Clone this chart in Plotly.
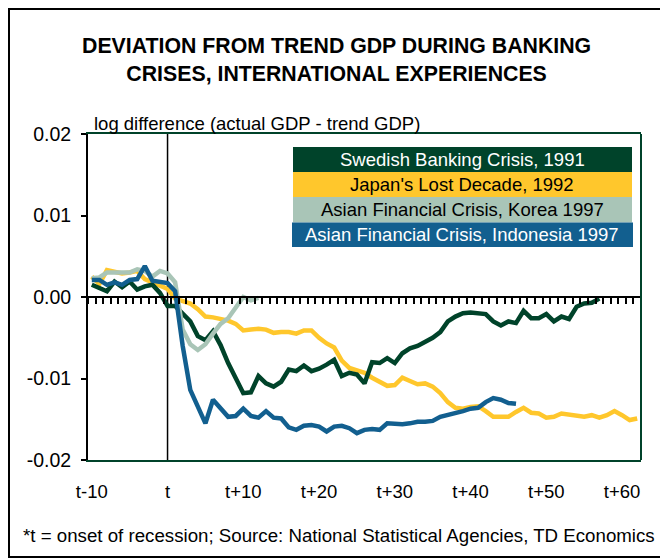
import plotly.graph_objects as go

# ---------------- data ----------------
periods_all = list(range(-10, 63))

sweden = [0.0015, 0.0011, 0.0007, 0.0019, 0.0012, 0.0019, 0.0009, 0.0013, 0.0015, 0.0005,
          -0.0011, -0.0011, -0.0020, -0.0030, -0.0048, -0.0053, -0.0042, -0.0059, -0.0081, -0.0101,
          -0.0118, -0.0117, -0.0097, -0.0106, -0.0110, -0.0104, -0.0089, -0.0091, -0.0084, -0.0091,
          -0.0088, -0.0083, -0.0077, -0.0097, -0.0093, -0.0095, -0.0106, -0.0080, -0.0081, -0.0075,
          -0.0081, -0.0069, -0.0063, -0.0060, -0.0055, -0.0050, -0.0043, -0.0030, -0.0024, -0.0020,
          -0.0019, -0.0020, -0.0021, -0.0030, -0.0035, -0.0030, -0.0032, -0.0017, -0.0026, -0.0026,
          -0.0021, -0.0030, -0.0024, -0.0027, -0.0012, -0.0008, -0.0007, -0.0002]

japan = [0.0025, 0.0016, 0.0033, 0.0031, 0.0029, 0.0030, 0.0032, 0.0022, 0.0018, 0.0015,
         0.0010, -0.0002, -0.0005, -0.0008, -0.0015, -0.0024, -0.0025, -0.0027, -0.0029, -0.0033,
         -0.0041, -0.0040, -0.0039, -0.0040, -0.0044, -0.0043, -0.0043, -0.0045, -0.0041, -0.0041,
         -0.0050, -0.0057, -0.0062, -0.0078, -0.0087, -0.0090, -0.0093, -0.0099, -0.0104, -0.0109,
         -0.0108, -0.0099, -0.0103, -0.0107, -0.0106, -0.0110, -0.0118, -0.0129, -0.0136, -0.0137,
         -0.0135, -0.0134, -0.0140, -0.0147, -0.0147, -0.0147, -0.0141, -0.0136, -0.0142, -0.0143,
         -0.0148, -0.0147, -0.0143, -0.0144, -0.0145, -0.0147, -0.0145, -0.0148, -0.0145, -0.0140,
         -0.0145, -0.0151, -0.0149]

korea = [0.0023, 0.0024, 0.0030, 0.0030, 0.0030, 0.0030, 0.0034, 0.0032, 0.0025, 0.0032,
         0.0029, 0.0018, -0.0040, -0.0058, -0.0065, -0.0058, -0.0045, -0.0033, -0.0026, -0.0012,
         0.0000, -0.0004, -0.0001]

indonesia = [0.0021, 0.0021, 0.0015, 0.0018, 0.0015, 0.0021, 0.0022, 0.0038, 0.0020, 0.0018,
             0.0017, 0.0007, -0.0060, -0.0114, -0.0134, -0.0155, -0.0126, -0.0136, -0.0147, -0.0146,
             -0.0137, -0.0146, -0.0148, -0.0140, -0.0148, -0.0149, -0.0160, -0.0163, -0.0158, -0.0157,
             -0.0159, -0.0165, -0.0159, -0.0158, -0.0161, -0.0167, -0.0163, -0.0162, -0.0163, -0.0155,
             -0.0156, -0.0156, -0.0155, -0.0153, -0.0153, -0.0152, -0.0147, -0.0145, -0.0143, -0.0140,
             -0.0137, -0.0136, -0.0129, -0.0124, -0.0126, -0.0130, -0.0131]

series_names = ["Swedish Banking Crisis, 1991", "Japan's Lost Decade, 1992",
                "Asian Financial Crisis, Korea 1997", "Asian Financial Crisis, Indonesia 1997"]
series_values = [sweden, japan, korea, indonesia]
series_colors = ["#00432A", "#FFC72C", "#A9C5B7", "#125F8F"]
legend_text_colors = ["white", "black", "black", "white"]

tick_vals = [-10, 0, 10, 20, 30, 40, 50, 60]
tick_text = ["t-10", "t", "t+10", "t+20", "t+30", "t+40", "t+50", "t+60"]
y_ticks = [0.02, 0.01, 0.0, -0.01, -0.02]
y_tick_text = ["0.02", "0.01", "0.00", "-0.01", "-0.02"]

title_text = "DEVIATION FROM TREND GDP DURING BANKING<br>CRISES, INTERNATIONAL EXPERIENCES"
ytitle_text = "log difference (actual GDP - trend GDP)"
footer_text = "*t = onset of recession; Source: National Statistical Agencies, TD Economics"

# ---------------- figure ----------------
FONT = "Liberation Sans, Arial, sans-serif"
OFF = 8                      # page body margin
W, H = 668 - OFF, 558 - OFF
# plot area in window pixel coordinates
L, R, T, B = 88, 641, 134, 460
xr = [-10.5, 62.5]


def px_x(px):
    return (px - L) / (R - L)


def px_y(py):
    return (B - py) / (B - T)


fig = go.Figure()

for idx in [1, 0, 2, 3]:
    vals = series_values[idx]
    fig.add_trace(go.Scatter(
        x=periods_all[:len(vals)], y=vals, mode="lines",
        name=series_names[idx],
        line=dict(color=series_colors[idx], width=4.5),
        showlegend=False, hoverinfo="skip"))

fig.update_layout(
    width=W, height=H,
    margin=dict(l=L - OFF, r=W - (R - OFF), t=T - OFF, b=H - (B - OFF)),
    paper_bgcolor="white", plot_bgcolor="white",
    font=dict(family=FONT, size=18, color="black"),
    xaxis=dict(range=xr, tickvals=tick_vals, ticktext=tick_text,
               showgrid=False, zeroline=False, showline=True,
               linecolor="#00432A", linewidth=2, mirror=True,
               ticks="", ticklabelstandoff=14, automargin=False,
               tickfont=dict(size=18.5, family=FONT)),
    xaxis2=dict(range=xr, overlaying="x", anchor="free", position=0.5,
                side="bottom", showline=True, linecolor="black", linewidth=2,
                ticks="outside", ticklen=6, tickwidth=2, tickcolor="black",
                tick0=-0.5, dtick=1, showticklabels=False,
                showgrid=False, zeroline=False),
    yaxis=dict(range=[-0.02, 0.02], tickvals=y_ticks, ticktext=y_tick_text,
               showgrid=False, zeroline=False, showline=True,
               linecolor="black", linewidth=2, ticks="outside",
               ticklen=5, tickwidth=2, tickcolor="black",
               ticklabelstandoff=6, automargin=False,
               tickfont=dict(size=19.5, family=FONT)),
)

fig.add_trace(go.Scatter(x=[xr[0]], y=[0], xaxis="x2", mode="markers",
                         marker=dict(opacity=0), showlegend=False, hoverinfo="skip"))

fig.add_vline(x=0, line=dict(color="black", width=1.5), layer="below")

shapes = []
shapes.append(dict(type="line", xref="paper", yref="paper", x0=1, x1=1, y0=0, y1=1,
                   line=dict(color="#00432A", width=2)))
shapes.append(dict(type="rect", xref="paper", yref="paper",
                   x0=px_x(9), x1=px_x(666.5), y0=px_y(557), y1=px_y(9),
                   line=dict(color="black", width=2), fillcolor="rgba(0,0,0,0)"))
rows = [(147, 172), (172, 197), (197, 222.5), (222.5, 247)]
for i, (yt, yb) in enumerate(rows):
    x0, x1 = (293, 632) if i < 3 else (292, 633)
    shapes.append(dict(type="rect", xref="paper", yref="paper",
                       x0=px_x(x0), x1=px_x(x1), y0=px_y(yb), y1=px_y(yt),
                       line=dict(width=0), fillcolor=series_colors[i]))
for s in shapes:
    fig.add_shape(**s)

annos = []
for i, (yt, yb) in enumerate(rows):
    annos.append(dict(xref="paper", yref="paper", x=px_x(462.5), y=px_y((yt + yb) / 2),
                      text=series_names[i], showarrow=False, xanchor="center", yanchor="middle",
                      font=dict(size=18.5, family=FONT, color=legend_text_colors[i])))
annos.append(dict(xref="paper", yref="paper", x=px_x(336), y=px_y(60), text="<b>" + title_text + "</b>",
                  showarrow=False, xanchor="center", yanchor="middle",
                  font=dict(size=21.3, family=FONT, color="black")))
annos.append(dict(xref="paper", yref="paper", x=px_x(92), y=px_y(124), text=ytitle_text,
                  showarrow=False, xanchor="left", yanchor="middle",
                  font=dict(size=18.5, family=FONT, color="black")))
annos.append(dict(xref="paper", yref="paper", x=px_x(21), y=px_y(535), text=footer_text,
                  showarrow=False, xanchor="left", yanchor="middle",
                  font=dict(size=18.7, family=FONT, color="black")))
fig.update_layout(annotations=annos)

fig.write_html("out.html")
